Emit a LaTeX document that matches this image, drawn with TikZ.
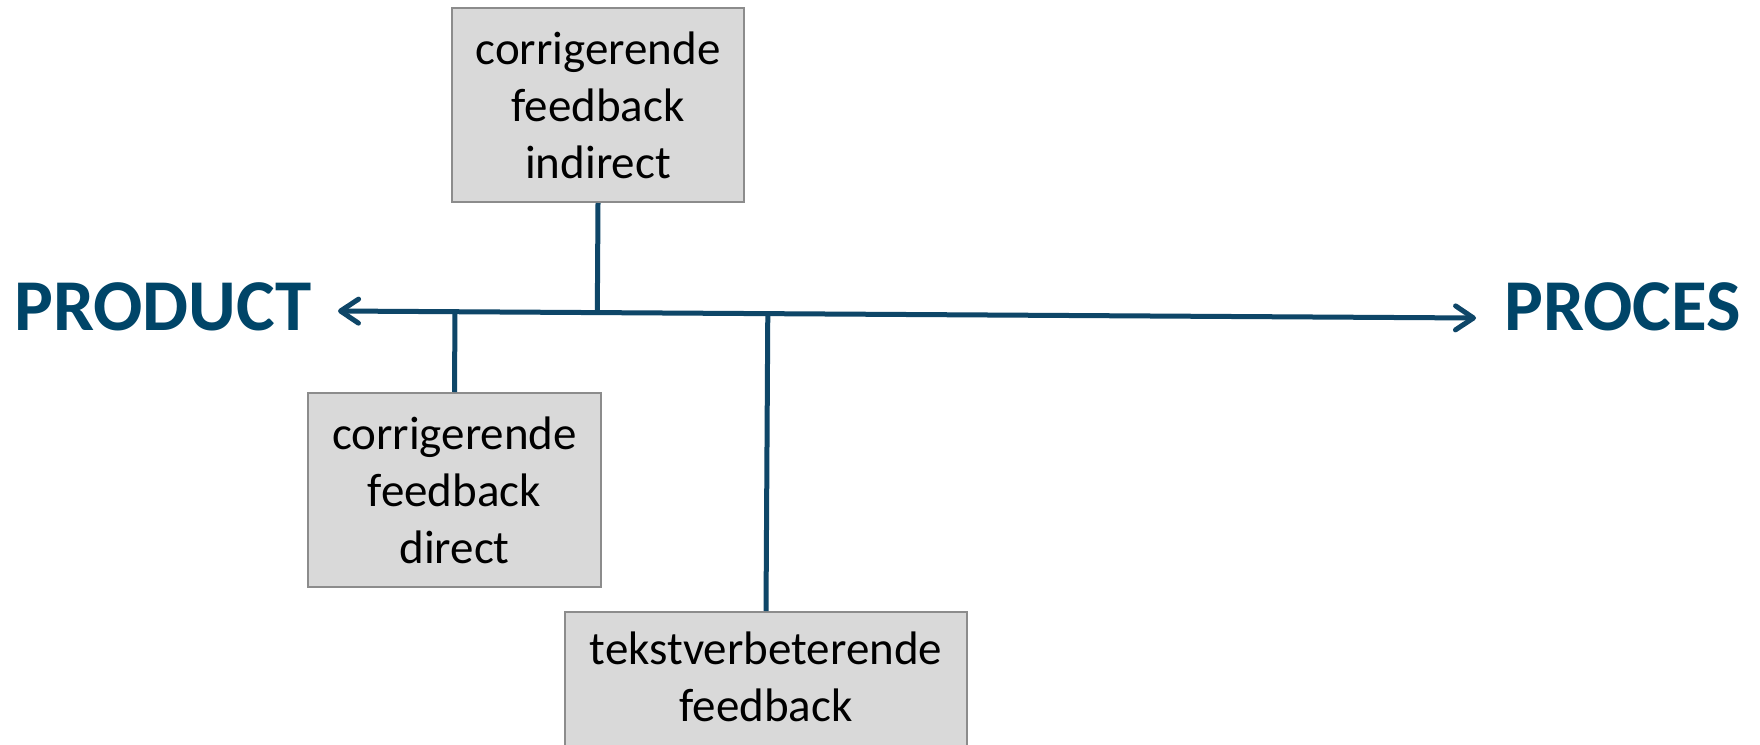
\documentclass[tikz,border=0pt]{standalone}
\usepackage{fontspec}
\setmainfont{Carlito}
\usetikzlibrary{arrows.meta,calc}
\definecolor{navy}{RGB}{0,69,104}
\definecolor{linecol}{RGB}{14,70,104}
\definecolor{boxfill}{RGB}{217,217,217}
\definecolor{boxline}{RGB}{140,140,140}
\begin{document}
\begin{tikzpicture}[x=1pt,y=-1pt,
  fbbox/.style={draw=boxline, line width=2pt, fill=boxfill, align=center,
    font=\fontsize{47}{57}\selectfont, inner sep=0pt},
  endlabel/.style={text=navy, font=\fontsize{73}{80}\selectfont\bfseries, inner sep=0pt},
  conn/.style={draw=linecol, line width=5pt},
  barb/.tip={Straight Barb[length=18pt,width=24pt,round]}]
\useasboundingbox (0,0) rectangle (1760,744);
\clip (0,0) rectangle (1760,744);
\fill[white] (0,0) rectangle (1760,744);

\coordinate (L) at (338,311);
\coordinate (R) at (1476,318);

\node[fbbox, minimum width=292pt, minimum height=194pt] (top) at (598,105)
  {corrigerende\\feedback\\indirect};
\node[fbbox, minimum width=293pt, minimum height=194pt] (left) at (454.5,490)
  {corrigerende\\feedback\\direct};
\node[fbbox, minimum width=402pt, minimum height=150pt, text depth=20pt] (bottom) at (766,687)
  {tekstverbeterende\\feedback};

\node[endlabel, anchor=base west] (product) at (14,330) {PRODUCT};
\node[endlabel, anchor=base west] (proces) at (1504,330) {PROCES};

\draw[conn, barb-barb] (L) -- (R);
\draw[conn] (top.south) -- ($(L)!(top.south)!(R)$);
\draw[conn] (left.north) -- ($(L)!(left.north)!(R)$);
\draw[conn] (bottom.north) -- ($(L)!(bottom.north)!(R)$);
\end{tikzpicture}
\end{document}
